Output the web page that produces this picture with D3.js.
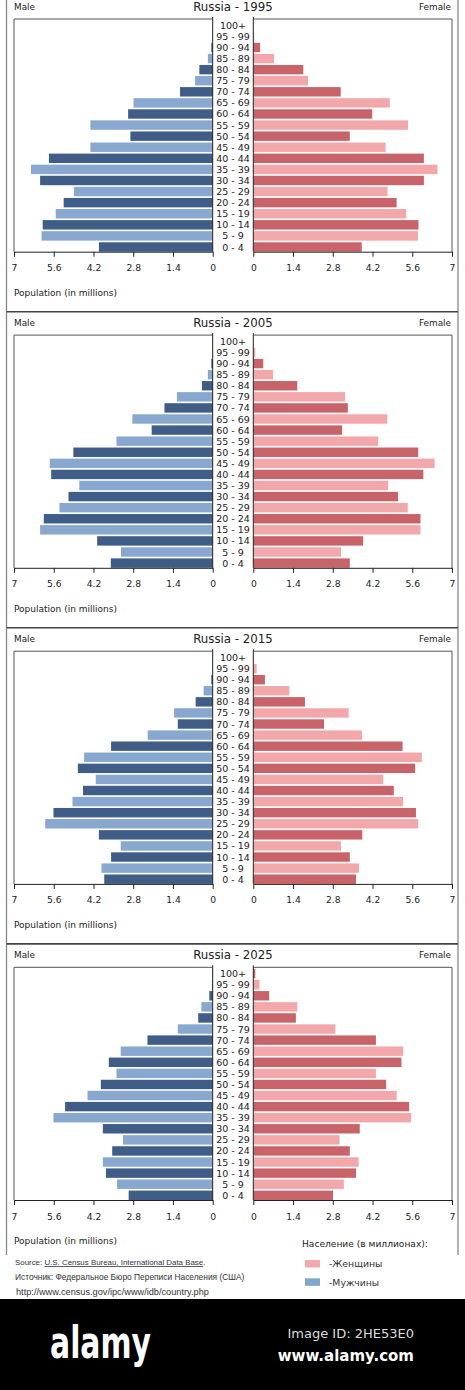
<!DOCTYPE html>
<html lang="en">
<head>
    <meta charset="UTF-8">
    <title>Russia population pyramids</title>
    <script src="https://d3js.org/d3.v7.min.js"></script>
    <style>
        body {
            margin: 0;
            padding: 0;
            background-color: #ffffff;
        }

        svg text {
            font-family: 'DejaVu Sans', sans-serif;
        }

        .footer text {
            font-family: 'Liberation Sans', Arial, sans-serif;
        }
    </style>
</head>
<body>
    <div id="chart"></div>

    <script>
        // age groups, bottom to top
        const ageGroups = ['0 - 4', '5 - 9', '10 - 14', '15 - 19', '20 - 24', '25 - 29', '30 - 34',
            '35 - 39', '40 - 44', '45 - 49', '50 - 54', '55 - 59', '60 - 64', '65 - 69',
            '70 - 74', '75 - 79', '80 - 84', '85 - 89', '90 - 94', '95 - 99', '100+'];

        const years = [1995, 2005, 2015, 2025];
        const tickValues = [0, 1.4, 2.8, 4.2, 5.6, 7];

        // millions, same order as ageGroups
        const male1995 = [4.01, 6.03, 5.99, 5.53, 5.25, 4.89, 6.08, 6.40, 5.77, 4.31, 2.90,
            4.31, 2.98, 2.79, 1.15, 0.62, 0.47, 0.17, 0.05, 0.01, 0];
        const female1995 = [3.82, 5.80, 5.82, 5.39, 5.05, 4.73, 6.01, 6.49, 6.01, 4.66, 3.40,
            5.45, 4.19, 4.81, 3.08, 1.93, 1.76, 0.73, 0.24, 0.03, 0];

        const male2005 = [3.59, 3.23, 4.07, 6.08, 5.95, 5.40, 5.08, 4.70, 5.69, 5.74, 4.91,
            3.39, 2.15, 2.83, 1.70, 1.26, 0.38, 0.17, 0.05, 0.01, 0];
        const female2005 = [3.40, 3.09, 3.87, 5.89, 5.89, 5.44, 5.10, 4.75, 5.99, 6.39, 5.81,
            4.40, 3.13, 4.72, 3.33, 3.23, 1.55, 0.70, 0.35, 0.07, 0];

        const male2015 = [3.82, 3.92, 3.58, 3.24, 4.01, 5.90, 5.61, 4.94, 4.57, 4.12, 4.75,
            4.53, 3.58, 2.29, 1.23, 1.36, 0.60, 0.32, 0.05, 0.01, 0];
        const female2015 = [3.62, 3.72, 3.40, 3.09, 3.84, 5.81, 5.73, 5.28, 4.95, 4.58, 5.70,
            5.94, 5.26, 3.83, 2.49, 3.36, 1.82, 1.27, 0.41, 0.12, 0.01];

        const male2025 = [2.96, 3.37, 3.76, 3.87, 3.54, 3.16, 3.87, 5.61, 5.20, 4.41, 3.94,
            3.39, 3.66, 3.24, 2.30, 1.23, 0.51, 0.40, 0.12, 0.03, 0.01];
        const female2025 = [2.81, 3.19, 3.62, 3.71, 3.40, 3.04, 3.75, 5.56, 5.49, 5.05, 4.68,
            4.32, 5.22, 5.28, 4.32, 2.89, 1.50, 1.55, 0.56, 0.22, 0.07];

        const maleByYear = [male1995, male2005, male2015, male2025];
        const femaleByYear = [female1995, female2005, female2015, female2025];

        const colors = {
            maleDark: '#3f5d87',
            maleLight: '#88a8cf',
            femaleDark: '#c9636a',
            femaleLight: '#f2a7aa'
        };

        const ink = '#222';
        const width = 465;
        const height = 1390;
        const panelStep = 316.1;

        const svg = d3.select('#chart')
            .append('svg')
            .attr('width', width)
            .attr('height', height);

        // shared scales
        const plotTop = 19;
        const plotBottom = 251.7;

        const xLeft = d3.scaleLinear().domain([0, 7]).range([212.7, 14]);
        const xRight = d3.scaleLinear().domain([0, 7]).range([253.3, 452]);
        const y = d3.scaleBand()
            .domain(ageGroups.slice().reverse())
            .range([20.6, plotBottom])
            .paddingInner(0.15)
            .paddingOuter(0);

        function drawPanel(index) {
            const male = maleByYear[index];
            const female = femaleByYear[index];
            const rows = ageGroups.map((age, i) => ({ age, i, male: male[i], female: female[i] }));

            const g = svg.append('g')
                .attr('transform', `translate(0,${index * panelStep})`);

            g.append('text')
                .attr('x', 233)
                .attr('y', 11)
                .attr('text-anchor', 'middle')
                .attr('font-size', 11.8)
                .attr('fill', ink)
                .text(`Russia - ${years[index]}`);

            g.append('text')
                .attr('x', 14)
                .attr('y', 10.2)
                .attr('font-size', 8.9)
                .attr('fill', ink)
                .text('Male');

            g.append('text')
                .attr('x', 451)
                .attr('y', 10.2)
                .attr('text-anchor', 'end')
                .attr('font-size', 8.9)
                .attr('fill', ink)
                .text('Female');

            // bars
            g.append('g')
                .selectAll('rect')
                .data(rows)
                .join('rect')
                .attr('x', d => xLeft(d.male))
                .attr('y', d => y(d.age))
                .attr('width', d => xLeft(0) - xLeft(d.male))
                .attr('height', y.bandwidth())
                .attr('fill', d => d.i % 2 === 0 ? colors.maleDark : colors.maleLight);

            g.append('g')
                .selectAll('rect')
                .data(rows)
                .join('rect')
                .attr('x', xRight(0))
                .attr('y', d => y(d.age))
                .attr('width', d => xRight(d.female) - xRight(0))
                .attr('height', y.bandwidth())
                .attr('fill', d => d.i % 2 === 0 ? colors.femaleDark : colors.femaleLight);

            // frames round each half
            g.append('path')
                .attr('d', `M${xLeft(7)},${plotBottom}V${plotTop}H${xLeft(0)}`)
                .attr('fill', 'none')
                .attr('stroke', '#555')
                .attr('stroke-width', 1);

            g.append('path')
                .attr('d', `M${xRight(7)},${plotBottom}V${plotTop}H${xRight(0)}`)
                .attr('fill', 'none')
                .attr('stroke', '#555')
                .attr('stroke-width', 1);

            [xLeft(0), xRight(0)].forEach(x => {
                g.append('line')
                    .attr('x1', x).attr('x2', x)
                    .attr('y1', plotTop - 2).attr('y2', plotBottom)
                    .attr('stroke', ink)
                    .attr('stroke-width', 1);
            });

            // age labels
            g.append('g')
                .selectAll('text')
                .data(rows)
                .join('text')
                .attr('x', 233)
                .attr('y', d => y(d.age) + y.bandwidth() / 2)
                .attr('dy', '0.37em')
                .attr('text-anchor', 'middle')
                .attr('font-size', 9.5)
                .attr('fill', ink)
                .text(d => d.age);

            // axes
            const fmt = d => d === 0 || d === 7 ? String(d) : d.toFixed(1);

            const axisLeft = g.append('g')
                .attr('transform', `translate(0,${plotBottom})`)
                .call(d3.axisBottom(xLeft).tickValues(tickValues).tickFormat(fmt)
                    .tickSize(5).tickSizeOuter(0).tickPadding(8));

            const axisRight = g.append('g')
                .attr('transform', `translate(0,${plotBottom})`)
                .call(d3.axisBottom(xRight).tickValues(tickValues).tickFormat(fmt)
                    .tickSize(5).tickSizeOuter(0).tickPadding(8));

            [axisLeft, axisRight].forEach(ax => {
                ax.select('.domain').attr('stroke', ink);
                ax.selectAll('.tick line').attr('stroke', ink);
                ax.selectAll('.tick text')
                    .attr('font-family', "'DejaVu Sans', sans-serif")
                    .attr('font-size', 9.2)
                    .attr('fill', ink);
            });

            g.append('text')
                .attr('x', 14)
                .attr('y', 296)
                .attr('font-size', 9)
                .attr('fill', ink)
                .text('Population (in millions)');
        }

        years.forEach((yr, i) => drawPanel(i));

        // outer frame
        [6.5, 458].forEach(x => {
            svg.append('line')
                .attr('x1', x).attr('x2', x)
                .attr('y1', 0).attr('y2', 1255)
                .attr('stroke', '#888')
                .attr('stroke-width', 1.3);
        });

        [0, 1, 2].forEach(i => {
            svg.append('line')
                .attr('x1', 6.5).attr('x2', 458)
                .attr('y1', 311.7 + i * panelStep).attr('y2', 311.7 + i * panelStep)
                .attr('stroke', '#444')
                .attr('stroke-width', 1.6);
        });

        // legend
        const legendItems = [
            { label: '-Женщины', color: '#f1a9ab' },
            { label: '-Мужчины', color: '#82a5d0' }
        ];

        svg.append('text')
            .attr('x', 302)
            .attr('y', 1246.5)
            .attr('font-size', 9.1)
            .attr('fill', ink)
            .text('Население (в миллионах):');

        const legend = svg.append('g')
            .selectAll('g')
            .data(legendItems)
            .join('g')
            .attr('transform', (d, i) => `translate(305,${1260 + i * 18.3})`);

        legend.append('rect')
            .attr('width', 15)
            .attr('height', 7.5)
            .attr('fill', d => d.color);

        legend.append('text')
            .attr('x', 24)
            .attr('y', 7.3)
            .attr('font-size', 9.3)
            .attr('fill', '#333')
            .text(d => d.label);

        // source lines
        const footer = svg.append('g').attr('class', 'footer');

        const src = footer.append('text')
            .attr('x', 15)
            .attr('y', 1265)
            .attr('font-size', 7.9)
            .attr('fill', '#333');
        src.append('tspan').text('Source: ');
        src.append('tspan')
            .attr('text-decoration', 'underline')
            .attr('fill', '#334')
            .text('U.S. Census Bureau, International Data Base');
        src.append('tspan').text('.');

        footer.append('text')
            .attr('x', 15)
            .attr('y', 1280)
            .attr('font-size', 8.4)
            .attr('fill', '#333')
            .text('Источник: Федеральное Бюро Переписи Населения (США)');

        footer.append('text')
            .attr('x', 16)
            .attr('y', 1294.5)
            .attr('font-size', 9.2)
            .attr('fill', '#333')
            .text('http://www.census.gov/ipc/www/idb/country.php');

        // bottom band
        svg.append('rect')
            .attr('x', 0)
            .attr('y', 1299)
            .attr('width', width)
            .attr('height', height - 1299)
            .attr('fill', '#000');

        svg.append('text')
            .attr('x', 50)
            .attr('y', 1358)
            .attr('font-family', "'Liberation Sans Narrow', 'Liberation Sans', sans-serif")
            .attr('font-weight', 'bold')
            .attr('font-size', 44)
            .attr('textLength', 101)
            .attr('lengthAdjust', 'spacingAndGlyphs')
            .attr('fill', '#fff')
            .text('alamy');

        svg.append('text')
            .attr('x', 414)
            .attr('y', 1337.5)
            .attr('text-anchor', 'end')
            .attr('font-family', "'Open Sans', sans-serif")
            .attr('font-size', 13)
            .attr('fill', '#ddd')
            .text('Image ID: 2HE53E0');

        svg.append('text')
            .attr('x', 414)
            .attr('y', 1361)
            .attr('text-anchor', 'end')
            .attr('font-family', "'Open Sans', sans-serif")
            .attr('font-weight', 'bold')
            .attr('font-size', 15)
            .attr('fill', '#fff')
            .text('www.alamy.com');
    </script>
</body>
</html>
